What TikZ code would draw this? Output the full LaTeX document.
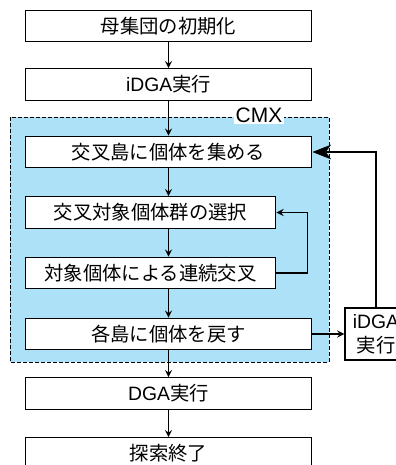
\documentclass[tikz,border=0pt]{standalone}
\usepackage{fontspec}
\setmainfont{Noto Sans CJK JP}
\newfontfamily\latinfont{Liberation Sans}
\usetikzlibrary{arrows,arrows.meta}

\definecolor{cmxblue}{RGB}{173,225,247}

\begin{document}
\begin{tikzpicture}[x=0.75pt,y=-0.75pt,
  font=\fontsize{14.5}{18}\selectfont,
  widebox/.style={draw,line width=0.9pt,fill=white,minimum width=215pt,minimum height=23.5pt,inner sep=0pt},
  narrowbox/.style={widebox,minimum width=188pt},
  flow/.style={-stealth,line width=1.4pt}]
\useasboundingbox (0,0) rectangle (396,465);
\clip (0,0) rectangle (396,465);

% CMX area
\draw[fill=cmxblue,dash pattern=on 3pt off 1.5pt,line width=0.7pt] (10,117) rectangle (329,362);
\node[fill=white,inner sep=1.5pt,anchor=base,font=\latinfont\fontsize{15.7}{18}\selectfont] (cmx) at (259,122) {CMX};

\node[widebox] (init) at (168.5,26) {母集団の初期化};
\node[widebox] (idga) at (168.5,84.5) {{\latinfont iDGA}実行};
\node[widebox] (gather) at (168.5,152) {交叉島に個体を集める};
\node[narrowbox] (select) at (150.5,212.5) {交叉対象個体群の選択};
\node[narrowbox] (cross) at (150.5,273) {対象個体による連続交叉};
\node[widebox] (back) at (168.5,334) {各島に個体を戻す};
\node[widebox] (dga) at (168.5,393.5) {{\latinfont DGA}実行};
\node[widebox] (stop) at (168.5,453.5) {探索終了};
\node[draw,line width=0.9pt,fill=white,minimum width=46.5pt,minimum height=39pt,align=center,inner sep=0pt] (side) at (376,334) {{\latinfont iDGA}\\実行};

\draw[flow] (init) -- (idga);
\draw[flow] (idga) -- (gather);
\draw[flow] (gather.south) -- (gather.south |- select.north);
\draw[flow] (gather.south |- select.south) -- (gather.south |- cross.north);
\draw[flow] (gather.south |- cross.south) -- (back.north);
\draw[flow] (back) -- (dga);
\draw[flow] (dga) -- (stop);

\draw[flow] (cross.east) -- ++(31,0) |- (select.east);
\draw[flow] (back.east) -- (side.west);
\draw[-{Stealth[length=14pt,width=11pt,inset=4pt]},line width=0.8pt] (side.north) |- (gather.east);

\end{tikzpicture}
\end{document}
